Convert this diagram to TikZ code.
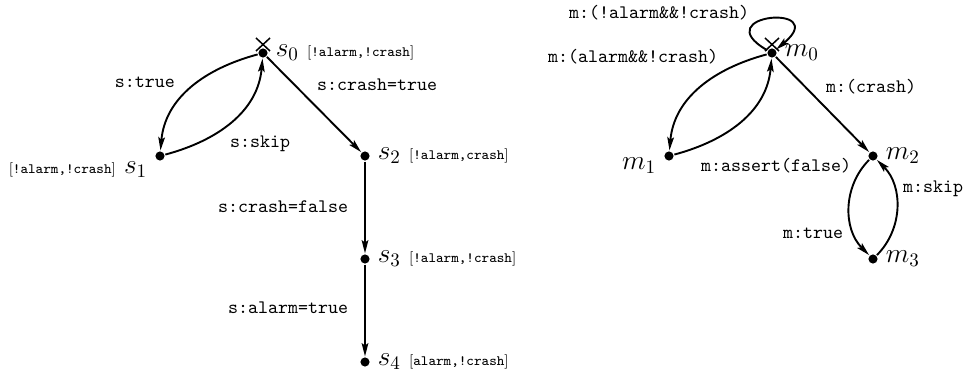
\documentclass[tikz,border=0pt]{standalone}
\usetikzlibrary{arrows.meta}

\newcommand{\prd}[1]{{\fontsize{7.5}{9}\selectfont[\texttt{#1}]}}

\tikzset{
  state/.style={circle, fill, inner sep=0pt, minimum size=4.8pt},
  trans/.style={font=\ttfamily},
  nm/.style={font=\Large},
}

\begin{document}
\begin{tikzpicture}[x=0.525pt, y=0.525pt, line width=1pt,
    >={Stealth[length=7pt, width=3.5pt, inset=1.3pt]}]
    \useasboundingbox (0,0) rectangle (965,376);

    % left machine
    \node[state, label={[nm]right:{$s_0$\hspace{0.3em}\prd{!alarm,!crash}}}] (s0) at (263,323) {};
    \node[state, label={[nm, yshift=-7pt]left:{\prd{!alarm,!crash}\hspace{0.3em}$s_1$}}] (s1) at (160,220) {};
    \node[state, label={[nm]right:{$s_2$\hspace{0.3em}\prd{!alarm,crash}}}] (s2) at (365,220) {};
    \node[state, label={[nm]right:{$s_3$\hspace{0.3em}\prd{!alarm,!crash}}}] (s3) at (365,117) {};
    \node[state, label={[nm]right:{$s_4$\hspace{0.3em}\prd{alarm,!crash}}}] (s4) at (365,14) {};

    \draw[line width=0.8pt] (s0.center) ++(-7,2) -- ++(14,13) (s0.center) ++(7,2) -- ++(-14,13);

    \draw[->] (s0) to[out=195, in=85] (s1);
    \draw[->] (s1) to[out=15, in=265] (s0);
    \draw[->] (s0) -- (s2);
    \draw[->] (s2) -- (s3);
    \draw[->] (s3) -- (s4);

    \node[trans] (strue)  at (145,294) {s:true};
    \node[trans] (sskip)  at (260,232) {s:skip};
    \node[trans] (scrt)   at (377,291) {s:crash=true};
    \node[trans] (scrf)   at (283,169) {s:crash=false};
    \node[trans] (salarm) at (288,68)  {s:alarm=true};

    % right machine
    \node[state, label={[nm]right:$m_0$}] (m0) at (772,323) {};
    \node[state, label={[nm, yshift=-5pt]left:$m_1$}] (m1) at (669,220) {};
    \node[state, label={[nm]right:$m_2$}] (m2) at (873,220) {};
    \node[state, label={[nm]right:$m_3$}] (m3) at (873,117) {};

    \draw[line width=0.8pt] (m0.center) ++(-7,2) -- ++(14,13) (m0.center) ++(7,2) -- ++(-14,13);

    \draw[->] (m0) to[out=150, in=40, min distance=38pt] (m0);
    \draw[->] (m0) to[out=195, in=85] (m1);
    \draw[->] (m1) to[out=15, in=265] (m0);
    \draw[->] (m0) -- (m2);
    \draw[->] (m2) to[out=225, in=135] (m3);
    \draw[->] (m3) to[out=45, in=315] (m2);

    \node[trans] (mloop)   at (659,363) {m:(!alarm\&\&!crash)};
    \node[trans] (malarm)  at (633,319) {m:(alarm\&\&!crash)};
    \node[trans] (mcrash)  at (871,289) {m:(crash)};
    \node[trans] (massert) at (776,210) {m:assert(false)};
    \node[trans] (mskip)   at (933,187) {m:skip};
    \node[trans] (mtrue)   at (813,143) {m:true};
\end{tikzpicture}
\end{document}
